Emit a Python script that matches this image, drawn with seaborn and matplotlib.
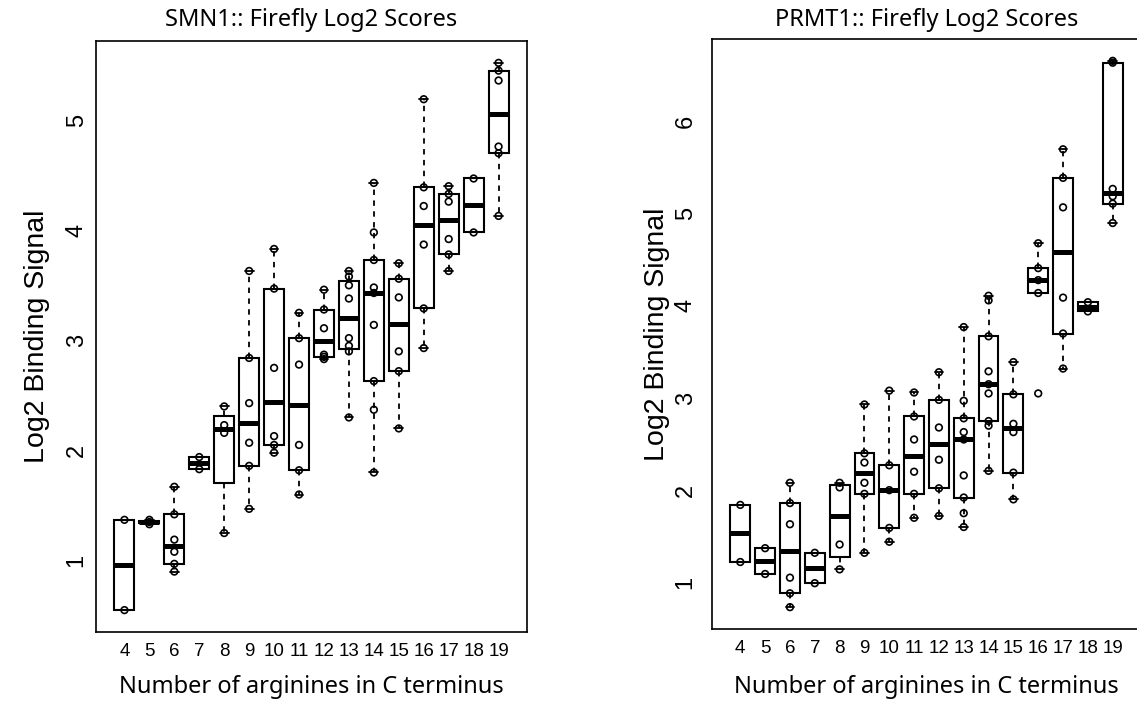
import numpy as np
import pandas as pd
import matplotlib
matplotlib.use("Agg")
import matplotlib.pyplot as plt
import seaborn as sns

# number of arginines in the C terminus (x categories)
arginines = list(range(4, 20))

# log2 binding signal per construct, one list per arginine count
smn1_scores = [
    [0.55, 1.37],
    [1.33, 1.35, 1.37],
    [0.90, 0.97, 1.08, 1.19, 1.42, 1.67],
    [1.83, 1.94],
    [1.25, 2.16, 2.23, 2.40],
    [1.47, 1.86, 2.07, 2.43, 2.84, 3.63],
    [1.98, 2.05, 2.13, 2.75, 3.47, 3.83],
    [1.60, 1.82, 2.05, 2.78, 3.02, 3.25],
    [2.83, 2.85, 2.87, 3.11, 3.28, 3.46],
    [2.30, 2.90, 2.95, 3.02, 3.38, 3.50, 3.58, 3.63],
    [1.80, 2.37, 2.63, 3.14, 3.43, 3.48, 3.73, 3.98, 4.43],
    [2.20, 2.72, 2.90, 3.39, 3.56, 3.70],
    [2.93, 3.29, 3.87, 4.22, 4.39, 5.19],
    [3.63, 3.78, 3.92, 4.26, 4.33, 4.40],
    [3.98, 4.47],
    [4.13, 4.70, 4.76, 5.36, 5.45, 5.52],
]

prmt1_scores = [
    [1.22, 1.84],
    [1.09, 1.37],
    [0.73, 0.88, 1.05, 1.63, 1.86, 2.08],
    [0.99, 1.32],
    [1.14, 1.41, 2.03, 2.08],
    [1.32, 1.96, 2.08, 2.30, 2.40, 2.93],
    [1.44, 1.59, 2.00, 2.27, 3.08],
    [1.70, 1.96, 2.20, 2.55, 2.80, 3.06],
    [1.72, 2.02, 2.33, 2.68, 2.98, 3.28],
    [1.60, 1.75, 1.92, 2.16, 2.55, 2.63, 2.78, 2.97, 3.77],
    [2.21, 2.70, 2.75, 3.05, 3.15, 3.29, 3.67, 4.06, 4.11],
    [1.90, 2.19, 2.63, 2.72, 3.04, 3.39],
    [3.05, 4.14, 4.28, 4.41, 4.68],
    [3.32, 3.70, 4.09, 5.07, 5.39, 5.70],
    [3.94, 4.04],
    [4.90, 5.11, 5.19, 5.27, 6.64, 6.66],
]

titles = ["SMN1:: Firefly Log2 Scores", "PRMT1:: Firefly Log2 Scores"]
x_label = "Number of arginines in C terminus"
y_label = "Log2 Binding Signal"
labels = [str(a) for a in arginines]

AXIS_FONT = "Liberation Sans"
TEXT_FONT = "Noto Sans"


def r_boxstats(values, coef=1.5):
    """Box stats the way R's boxplot() computes them (Tukey hinges)"""
    x = np.sort(np.asarray(values, dtype=float))
    n = len(x)
    n4 = np.floor((n + 3) / 2) / 2
    d = np.array([1, n4, (n + 1) / 2, n + 1 - n4, n]) - 1
    five = 0.5 * (x[np.floor(d).astype(int)] + x[np.ceil(d).astype(int)])
    iqr = five[3] - five[1]
    lo = x[x >= five[1] - coef * iqr].min()
    hi = x[x <= five[3] + coef * iqr].max()
    return dict(med=five[2], q1=five[1], q3=five[3], whislo=lo, whishi=hi, fliers=[])


def draw_panel(ax, scores, title, tick_pad, ylabel_x, title_y, xlabel_y):
    df = pd.DataFrame({
        "arginines": np.repeat(labels, [len(s) for s in scores]),
        "score": np.concatenate(scores),
    })

    # boxes (R style), then the raw points on top
    ax.bxp([r_boxstats(s) for s in scores], positions=range(len(scores)),
           widths=0.8, capwidths=0.35, showfliers=False, manage_ticks=False,
           patch_artist=True,
           boxprops=dict(facecolor="white", edgecolor="black", linewidth=1.5),
           medianprops=dict(color="black", linewidth=3.6, solid_capstyle="butt"),
           whiskerprops=dict(color="black", linewidth=1.3, linestyle=(0, (3, 3))),
           capprops=dict(color="black", linewidth=1.3),
           zorder=2)

    sns.stripplot(data=df, x="arginines", y="score", order=labels, jitter=False,
                  size=4.8, color="black", facecolor="none", edgecolor="black",
                  linewidth=1.2, zorder=3, ax=ax)

    # R pads the data range by 4% on each side
    all_vals = np.concatenate(scores)
    span = all_vals.max() - all_vals.min()
    ax.set_ylim(all_vals.min() - 0.04 * span, all_vals.max() + 0.04 * span)
    ax.set_xlim(-1.14, len(labels) - 1 + 1.14)

    ax.set_yticks(range(1, int(all_vals.max()) + 1))
    ax.set_xticks(range(len(labels)))
    ax.set_xticklabels(labels, family=AXIS_FONT, fontsize=13.5, color="black")
    for t in ax.get_yticklabels():
        t.set_family(AXIS_FONT)
        t.set_fontsize(17)
        t.set_rotation(90)
        t.set_va("center")
        t.set_color("black")
    ax.tick_params(axis="both", direction="out", length=5, width=1.1,
                   color="black", labelcolor="black")
    ax.tick_params(axis="y", pad=tick_pad)
    ax.tick_params(axis="x", pad=3)

    for sp in ax.spines.values():
        sp.set_visible(True)
        sp.set_color("black")
        sp.set_linewidth(1.2)

    ax.set_xlabel(x_label, family=TEXT_FONT, fontsize=17, va="baseline",
                  color="black")
    ax.xaxis.set_label_coords(0.5, xlabel_y)
    ax.set_ylabel(y_label, family=AXIS_FONT, fontsize=20.5, va="center",
                  color="black")
    ax.yaxis.set_label_coords(ylabel_x, 0.5)
    ax.set_title(title, family=TEXT_FONT, fontsize=17, y=title_y, pad=0,
                 color="black")


sns.set_theme(style="white")

fig = plt.figure(figsize=(11.37, 7.02), dpi=100)
ax1 = fig.add_axes([96 / 1137, 1 - 632 / 702, 431 / 1137, 591 / 702])
ax2 = fig.add_axes([712 / 1137, 1 - 629 / 702, 429 / 1137, 590 / 702])

draw_panel(ax1, smn1_scores, titles[0], tick_pad=1, ylabel_x=-0.137,
           title_y=1.025, xlabel_y=-0.103)
draw_panel(ax2, prmt1_scores, titles[1], tick_pad=6, ylabel_x=-0.128,
           title_y=1.022, xlabel_y=-0.108)

fig.savefig("out.png", dpi=100, facecolor="white")
